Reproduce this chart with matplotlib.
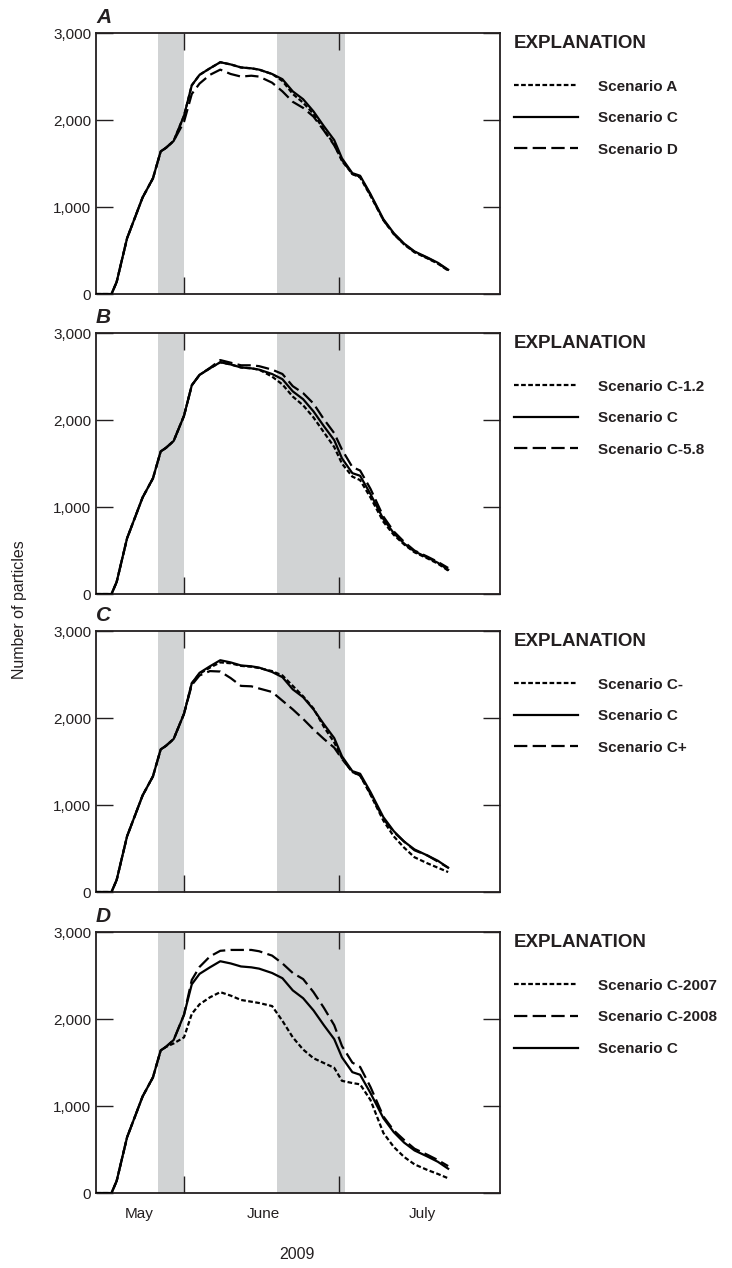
import matplotlib as mpl
mpl.use('Agg')
import matplotlib.pyplot as plt
from matplotlib.lines import Line2D
from matplotlib.ticker import FuncFormatter

plt.rcParams['font.family'] = ['Liberation Sans Narrow', 'Liberation Sans', 'DejaVu Sans']

# day of year, 2009
days = [135, 138, 139, 141, 144, 146, 147.5, 148.5, 150, 152, 153.5, 155, 157, 159,
        161, 163, 165, 166.5, 169, 171, 173, 175, 177, 179, 181, 182.5, 184.5, 186,
        188, 190.5, 192.5, 194.5, 196.5, 199, 201, 203]

scen_c = [0, 0, 140, 640, 1110, 1330, 1640, 1680, 1760, 2050, 2400, 2520, 2595, 2665,
          2640, 2605, 2595, 2580, 2530, 2470, 2330, 2240, 2100, 1930, 1770, 1560, 1390, 1360,
          1150, 860, 700, 580, 490, 420, 360, 280]

# panel A
scen_a = [0, 0, 140, 640, 1110, 1330, 1640, 1680, 1760, 2050, 2400, 2520, 2595, 2665,
          2640, 2605, 2595, 2580, 2530, 2450, 2300, 2200, 2070, 1890, 1720, 1530, 1380, 1340,
          1130, 850, 690, 570, 480, 410, 350, 270]
scen_d = [0, 0, 140, 640, 1110, 1330, 1640, 1680, 1760, 1980, 2300, 2420, 2520, 2580,
          2530, 2500, 2510, 2500, 2430, 2330, 2210, 2140, 2040, 1880, 1710, 1540, 1380, 1350,
          1140, 850, 690, 575, 485, 415, 355, 275]

# panel B
scen_c12 = [0, 0, 140, 640, 1110, 1330, 1640, 1680, 1760, 2050, 2400, 2520, 2595, 2665,
            2640, 2605, 2595, 2580, 2500, 2410, 2270, 2170, 2030, 1860, 1690, 1500, 1350, 1310,
            1110, 830, 680, 570, 480, 410, 350, 270]
scen_c58 = [0, 0, 140, 640, 1110, 1330, 1640, 1680, 1760, 2050, 2400, 2520, 2600, 2690,
            2660, 2630, 2630, 2620, 2580, 2530, 2390, 2310, 2190, 2010, 1850, 1660, 1460, 1420,
            1210, 890, 720, 600, 500, 430, 370, 300]

# panel C
scen_cm = [0, 0, 140, 640, 1110, 1330, 1640, 1680, 1760, 2050, 2400, 2510, 2580, 2640,
           2630, 2600, 2590, 2575, 2540, 2490, 2370, 2250, 2110, 1900, 1720, 1540, 1380, 1340,
           1120, 820, 640, 510, 400, 330, 280, 230]
scen_cp = [0, 0, 140, 640, 1110, 1330, 1640, 1680, 1760, 2050, 2380, 2490, 2540, 2535,
           2460, 2370, 2365, 2340, 2300, 2200, 2100, 1990, 1870, 1760, 1660, 1530, 1380, 1340,
           1130, 840, 690, 580, 480, 420, 350, 280]

# panel D
scen_c2007 = [0, 0, 140, 640, 1110, 1330, 1640, 1680, 1720, 1790, 2060, 2170, 2250, 2310,
              2270, 2220, 2200, 2185, 2150, 1980, 1790, 1650, 1550, 1495, 1440, 1290, 1265, 1250,
              1070, 690, 530, 415, 330, 265, 220, 170]
scen_c2008 = [0, 0, 140, 640, 1110, 1330, 1640, 1680, 1760, 2050, 2450, 2600, 2720, 2785,
              2795, 2795, 2795, 2780, 2730, 2640, 2530, 2460, 2310, 2130, 1930, 1690, 1500, 1450,
              1220, 880, 720, 610, 510, 440, 380, 310]

shade_periods = [(147, 152), (170, 183)]
month_ticks = [152, 182]
month_label_pos = [143.3, 167.4, 198.1]
month_labels = ['May', 'June', 'July']

dotted = (0, (2.1, 1.1))
dashed = (0, (6, 2.4))
solid = '-'

panels = [
    ('A', [(scen_a, dotted, 'Scenario A'), (scen_c, solid, 'Scenario C'), (scen_d, dashed, 'Scenario D')]),
    ('B', [(scen_c12, dotted, 'Scenario C-1.2'), (scen_c, solid, 'Scenario C'), (scen_c58, dashed, 'Scenario C-5.8')]),
    ('C', [(scen_cm, dotted, 'Scenario C-'), (scen_c, solid, 'Scenario C'), (scen_cp, dashed, 'Scenario C+')]),
    ('D', [(scen_c2007, dotted, 'Scenario C-2007'), (scen_c2008, dashed, 'Scenario C-2008'), (scen_c, solid, 'Scenario C')]),
]

fig = plt.figure(figsize=(7.32, 12.68), dpi=100)
bottoms = [0.7681, 0.5315, 0.2965, 0.0591]
lw = 1.6
ink = '#231f20'

for i, (letter, series) in enumerate(panels):
    ax = fig.add_axes([0.1311, bottoms[i], 0.5519, 0.2058])
    for s, e in shade_periods:
        ax.axvspan(s, e, color='#d1d3d4', lw=0, zorder=0)
    handles = []
    for vals, ls, lab in series:
        ax.plot(days, vals, color='black', lw=lw, linestyle=ls, zorder=3)
        handles.append(Line2D([], [], color='black', lw=lw, linestyle=ls))
    ax.set_xlim(135, 213)
    ax.set_ylim(0, 3000)
    ax.set_yticks([0, 1000, 2000, 3000])
    ax.yaxis.set_major_formatter(FuncFormatter(lambda v, p: f'{int(v):,}'))
    ax.set_xticks(month_ticks)
    ax.set_xticklabels([])
    ax.set_xticks(month_label_pos, minor=True)
    if i == 3:
        ax.set_xticklabels(month_labels, minor=True, fontsize=11, color=ink)
    else:
        ax.set_xticklabels([], minor=True)
    ax.tick_params(axis='both', which='major', direction='in', length=12, width=1,
                   top=True, right=True, labelsize=11, colors=ink)
    ax.tick_params(axis='x', which='minor', length=0, pad=10)
    for sp in ax.spines.values():
        sp.set_linewidth(1.3)
        sp.set_color(ink)
    ax.text(0.0, 1.058, letter, transform=ax.transAxes, fontsize=15, fontweight='bold',
            fontstyle='italic', ha='left', va='center', color=ink)
    leg = ax.legend(handles, [s[2] for s in series], title='EXPLANATION',
                    loc='upper left', bbox_to_anchor=(1.035, 0.993), frameon=False,
                    borderpad=0, borderaxespad=0, handlelength=4.2, handletextpad=1.3,
                    labelspacing=1.15, alignment='left',
                    prop={'weight': 'bold', 'size': 11},
                    title_fontproperties={'weight': 'bold', 'size': 13.5})
    leg._legend_box.sep = 20
    for t in leg.get_texts():
        t.set_color(ink)
    leg.get_title().set_color(ink)

fig.text(0.027, 0.519, 'Number of particles', rotation=90, ha='center', va='center',
         fontsize=11.5, color=ink)
fig.text(0.406, 0.0103, '2009', ha='center', va='center', fontsize=11.5, color=ink)

plt.savefig('out.png', dpi=100)
